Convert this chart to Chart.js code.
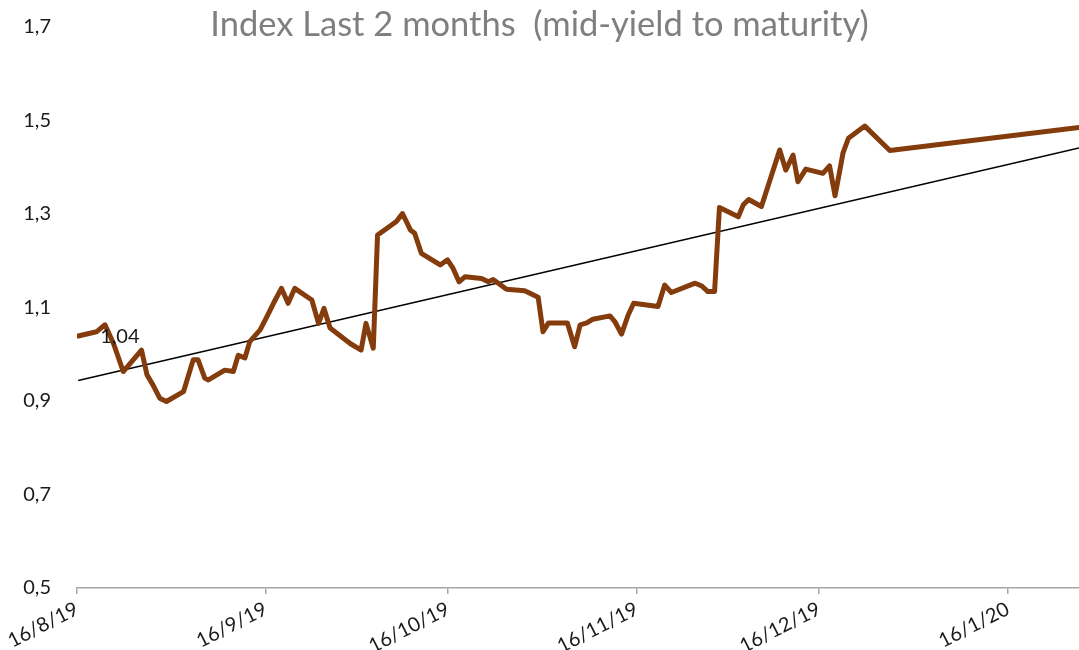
<!DOCTYPE html>
<html lang="en">
<head>
    <meta charset="UTF-8">
    <title>Index Last 2 months</title>
    <script src="https://cdn.jsdelivr.net/npm/chart.js"></script>
    <style>
        body { margin: 0; background: #fff; }
        .chart-container { position: relative; width: 1079px; height: 650px; }
    </style>
</head>
<body>
    <div class="chart-container"><canvas id="indexChart"></canvas></div>

    <script>
        // Days counted from 16/8/19
        const days = [0.2, 3.2, 4.6, 6.0, 7.6, 10.6, 11.5, 12.5, 13.6, 14.7, 17.5, 19.1, 19.9, 21.0, 21.6,
            24.3, 25.7, 26.5, 27.6, 28.4, 30.1, 31.2, 32.3, 33.6, 34.7, 35.8, 38.6, 39.7, 40.6, 41.6,
            44.9, 46.7, 47.5, 48.7, 49.4, 50.9, 52.5, 53.5, 54.8, 55.5, 56.6, 59.7, 60.9, 61.8, 62.8,
            63.8, 66.5, 67.6, 68.4, 70.6, 73.6, 75.8, 76.6, 77.5, 80.6, 81.8, 82.7, 83.8, 84.8, 87.6,
            88.4, 89.5, 90.6, 91.5, 95.5, 96.6, 97.7, 101.6, 102.7, 103.7, 104.8, 105.6, 108.7, 109.5,
            110.4, 112.5, 115.5, 116.5, 117.7, 118.5, 119.8, 122.6, 123.7, 124.6, 125.4, 125.9, 126.8,
            129.5, 133.6, 164.7];
        const yields = [1.039, 1.048, 1.063, 1.023, 0.963, 1.009, 0.956, 0.934, 0.906, 0.899, 0.920, 0.988, 0.988, 0.949, 0.945,
            0.966, 0.963, 0.998, 0.992, 1.027, 1.052, 1.080, 1.109, 1.141, 1.109, 1.141, 1.116, 1.066, 1.098, 1.056,
            1.023, 1.009, 1.066, 1.013, 1.255, 1.269, 1.284, 1.301, 1.266, 1.259, 1.216, 1.191, 1.202, 1.184, 1.155,
            1.166, 1.162, 1.155, 1.160, 1.139, 1.136, 1.122, 1.048, 1.067, 1.067, 1.016, 1.063, 1.067, 1.075, 1.082,
            1.070, 1.043, 1.084, 1.109, 1.102, 1.148, 1.132, 1.152, 1.146, 1.134, 1.134, 1.314, 1.294, 1.319,
            1.331, 1.316, 1.437, 1.394, 1.426, 1.369, 1.396, 1.387, 1.403, 1.339, 1.394, 1.430, 1.462,
            1.488, 1.436, 1.485];
        const trendValues = [0.944, 1.441]; // trend line at first and last day
        const tickDays = [0, 31, 61, 92, 122, 153];
        const tickLabels = ['16/8/19', '16/9/19', '16/10/19', '16/11/19', '16/12/19', '16/1/20'];
        const titleText = 'Index Last 2 months  (mid-yield to maturity)';

        const points = days.map((d, i) => ({ x: d, y: yields[i] }));
        const trend = [
            { x: days[0], y: trendValues[0] },
            { x: days[days.length - 1], y: trendValues[1] }
        ];

        // Titre et étiquette du premier point
        const extras = {
            id: 'extras',
            afterDraw(chart) {
                const ctx = chart.ctx;
                ctx.save();
                ctx.fillStyle = '#7f7f7f';
                ctx.font = '34.5px Lato';
                ctx.textAlign = 'center';
                ctx.textBaseline = 'middle';
                ctx.fillText(titleText, chart.width / 2, 25);

                const p = chart.getDatasetMeta(0).data[0];
                ctx.fillStyle = '#1a1a1a';
                ctx.font = '20px Lato';
                ctx.textAlign = 'left';
                ctx.fillText(yields[0].toFixed(2).replace('.', ','), p.x + 22, p.y + 1);
                ctx.restore();
            }
        };

        new Chart(document.getElementById('indexChart'), {
            type: 'line',
            data: {
                datasets: [
                    {
                        data: points, borderColor: '#843c0c', borderWidth: 5,
                        borderJoinStyle: 'round', borderCapStyle: 'round',
                        pointRadius: 0, tension: 0
                    },
                    {
                        data: trend, borderColor: '#000', borderWidth: 1.5,
                        pointRadius: 0, tension: 0
                    }
                ]
            },
            options: {
                responsive: true,
                maintainAspectRatio: false,
                animation: false,
                layout: { padding: { top: 27, right: 0, left: 0, bottom: 0 } },
                plugins: { legend: { display: false }, tooltip: { enabled: false } },
                scales: {
                    x: {
                        type: 'linear', min: 0, max: 164.7,
                        afterBuildTicks: s => { s.ticks = tickDays.map(v => ({ value: v })); },
                        afterFit: s => { s.height = 62; },
                        grid: { drawOnChartArea: false, drawTicks: true, tickLength: 6, color: '#a6a6a6', lineWidth: 1.5 },
                        border: { display: true, color: '#a6a6a6', width: 1.5 },
                        ticks: {
                            autoSkip: false, minRotation: 27, maxRotation: 27, padding: 3,
                            color: '#1a1a1a', font: { family: 'Lato', size: 20 },
                            callback: v => tickLabels[tickDays.indexOf(v)]
                        }
                    },
                    y: {
                        min: 0.5, max: 1.7,
                        ticks: {
                            stepSize: 0.2, padding: 2, color: '#1a1a1a',
                            font: { family: 'Lato', size: 20 },
                            callback: v => v.toFixed(1).replace('.', ',')
                        },
                        afterFit: s => { s.width = 77; },
                        grid: { display: false, drawTicks: true, tickLength: 24 },
                        border: { display: false }
                    }
                }
            },
            plugins: [extras]
        });
    </script>
</body>
</html>
